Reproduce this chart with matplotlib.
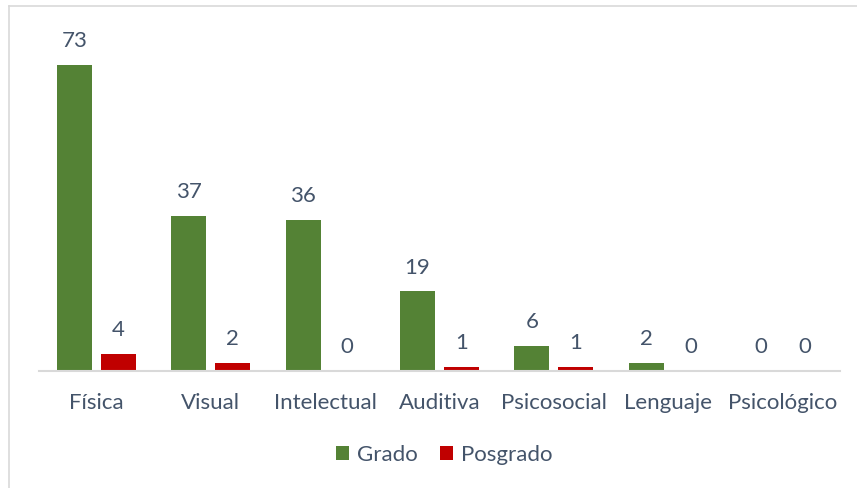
import matplotlib.pyplot as plt
from matplotlib.lines import Line2D
import numpy as np

categorias = ["Física", "Visual", "Intelectual", "Auditiva", "Psicosocial", "Lenguaje", "Psicológico"]
grado = [73, 37, 36, 19, 6, 2, 0]
posgrado = [4, 2, 0, 1, 1, 0, 0]

verde = "#548235"
rojo = "#C00000"
texto = "#44546A"

plt.rcParams['font.family'] = ['Lato', 'DejaVu Sans']

fig = plt.figure(figsize=(8.57, 4.88), dpi=100)
ax = fig.add_axes([39/857, 117/488, 801/857, 335/488])

x = np.arange(len(categorias))
ancho = 0.306
desp = 0.192
b1 = ax.bar(x - desp, grado, ancho, color=verde, label="Grado")
b2 = ax.bar(x + desp, posgrado, ancho, color=rojo, label="Posgrado")

for barras in (b1, b2):
    for b in barras:
        h = b.get_height()
        ax.annotate(f"{h:.0f}", (b.get_x() + b.get_width()/2, h),
                    xytext=(0, 10), textcoords="offset points",
                    ha="center", va="bottom", fontsize=16, color=texto)

ax.set_xlim(-0.5, len(categorias) - 0.5)
ax.set_ylim(0, 80)
ax.set_xticks(x)
ax.set_xticklabels(categorias, fontsize=16, color=texto)
ax.tick_params(axis="x", length=0, pad=16)
ax.set_yticks([])
for s in ("top", "right", "left"):
    ax.spines[s].set_visible(False)
ax.spines["bottom"].set_color("#D9D9D9")
ax.spines["bottom"].set_linewidth(1.5)

fig.legend(handles=[b1, b2], loc="center", bbox_to_anchor=(444/857, 1 - 455/488),
           ncol=2, frameon=False, fontsize=16, labelcolor=texto,
           handlelength=0.6, handleheight=0.6, handletextpad=0.35, columnspacing=1.0)

# marco gris del gráfico
fig.add_artist(Line2D([9/857, 1], [1 - 6/488, 1 - 6/488], color="#D9D9D9", lw=1.2))
fig.add_artist(Line2D([9/857, 9/857], [0, 1 - 6/488], color="#D9D9D9", lw=1.2))

fig.savefig("out.png", dpi=100)
